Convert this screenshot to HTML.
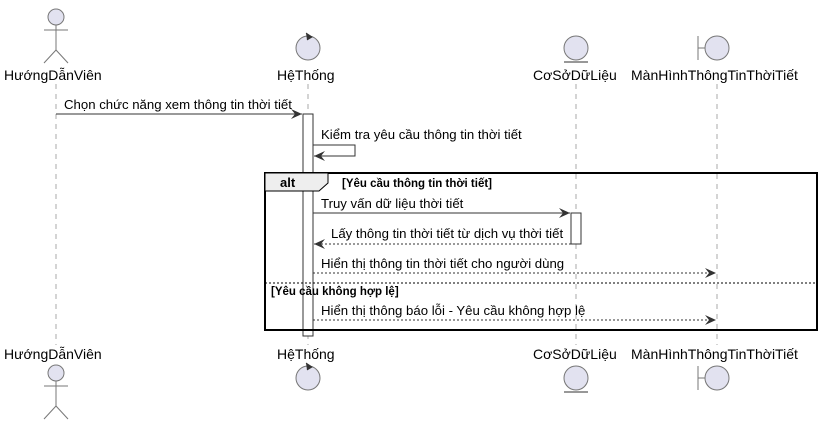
<!DOCTYPE html>
<html><head><meta charset="utf-8"><style>body{margin:0;background:#fff}svg{display:block}text{font-family:"Liberation Sans",sans-serif;fill:#000}</style></head>
<body>
<svg width="823" height="428" viewBox="0 0 823 428" xmlns="http://www.w3.org/2000/svg">
<defs><marker id="a" markerWidth="12" markerHeight="10" refX="11" refY="5" orient="auto" markerUnits="userSpaceOnUse"><path d="M0,0 L11,5 L0,10 L4,5 Z" fill="#333"/></marker></defs>
<g stroke="#aaa" stroke-dasharray="5,5" stroke-width="1">
<line x1="56" y1="84" x2="56" y2="345"/><line x1="308" y1="84" x2="308" y2="345"/>
<line x1="576" y1="84" x2="576" y2="345"/><line x1="717" y1="84" x2="717" y2="345"/></g>
<g stroke="#777" fill="#e2e2f0" stroke-width="1">
<circle cx="56" cy="17" r="8"/><line x1="56" y1="25" x2="56" y2="50" fill="none"/><line x1="44" y1="30" x2="68" y2="30"/><line x1="56" y1="50" x2="44" y2="63"/><line x1="56" y1="50" x2="68" y2="63"/>
<circle cx="308" cy="48" r="12"/><circle cx="576" cy="48" r="12"/><line x1="564" y1="62" x2="588" y2="62" stroke-width="1.5"/>
<circle cx="717" cy="48" r="12"/><line x1="698" y1="36" x2="698" y2="60"/><line x1="698" y1="48" x2="705" y2="48"/>
</g>
<path d="M306,33 L312,37 L307,40" fill="#333" stroke="#333"/>
<g font-size="14"><text x="4" y="80">HướngDẫnViên</text><text x="277" y="80">HệThống</text><text x="533" y="80">CơSởDữLiệu</text><text x="631" y="80">MànHìnhThôngTinThờiTiết</text>
<text x="4" y="359">HướngDẫnViên</text><text x="277" y="359">HệThống</text><text x="533" y="359">CơSởDữLiệu</text><text x="631" y="359">MànHìnhThôngTinThờiTiết</text></g>
<g stroke="#777" fill="#e2e2f0">
<circle cx="56" cy="373" r="8"/><line x1="56" y1="381" x2="56" y2="406"/><line x1="44" y1="386" x2="68" y2="386"/><line x1="56" y1="406" x2="44" y2="419"/><line x1="56" y1="406" x2="68" y2="419"/>
<circle cx="308" cy="378" r="12"/><circle cx="576" cy="378" r="12"/><line x1="564" y1="392" x2="588" y2="392" stroke-width="1.5"/>
<circle cx="717" cy="378" r="12"/><line x1="698" y1="366" x2="698" y2="390"/><line x1="698" y1="378" x2="705" y2="378"/>
</g>
<path d="M306,363 L312,367 L307,370" fill="#333" stroke="#333"/>
<rect x="303" y="114" width="10" height="222" fill="#fff" stroke="#333"/>
<rect x="571" y="213" width="10" height="31" fill="#fff" stroke="#333"/>
<rect x="265" y="173" width="552" height="157" fill="none" stroke="#000" stroke-width="2"/>
<path d="M265,173 L328,173 L328,183 L319,191 L265,191 Z" fill="#eee" stroke="#000" stroke-width="1"/>
<text x="280" y="187" font-size="13" font-weight="bold">alt</text>
<text x="342" y="187" font-size="11.5" font-weight="bold">[Yêu cầu thông tin thời tiết]</text>
<line x1="265" y1="283" x2="817" y2="283" stroke="#000" stroke-dasharray="2,2"/>
<text x="271" y="295" font-size="11.5" font-weight="bold">[Yêu cầu không hợp lệ]</text>
<g stroke="#333" fill="none">
<line x1="56" y1="114" x2="302" y2="114" marker-end="url(#a)"/>
<polyline points="313,145 355,145 355,156 314,156" marker-end="url(#a)"/>
<line x1="313" y1="213" x2="570" y2="213" marker-end="url(#a)"/>
<line x1="571" y1="244" x2="314" y2="244" stroke-dasharray="2,2" marker-end="url(#a)"/>
<line x1="313" y1="273" x2="716" y2="273" stroke-dasharray="2,2" marker-end="url(#a)"/>
<line x1="313" y1="320" x2="716" y2="320" stroke-dasharray="2,2" marker-end="url(#a)"/>
</g>
<g font-size="13.2">
<text x="64" y="109">Chọn chức năng xem thông tin thời tiết</text>
<text x="321" y="139">Kiểm tra yêu cầu thông tin thời tiết</text>
<text x="321" y="208">Truy vấn dữ liệu thời tiết</text>
<text x="331" y="238">Lấy thông tin thời tiết từ dịch vụ thời tiết</text>
<text x="321" y="268">Hiển thị thông tin thời tiết cho người dùng</text>
<text x="321" y="315">Hiển thị thông báo lỗi - Yêu cầu không hợp lệ</text>
</g>
</svg>
</body></html>
